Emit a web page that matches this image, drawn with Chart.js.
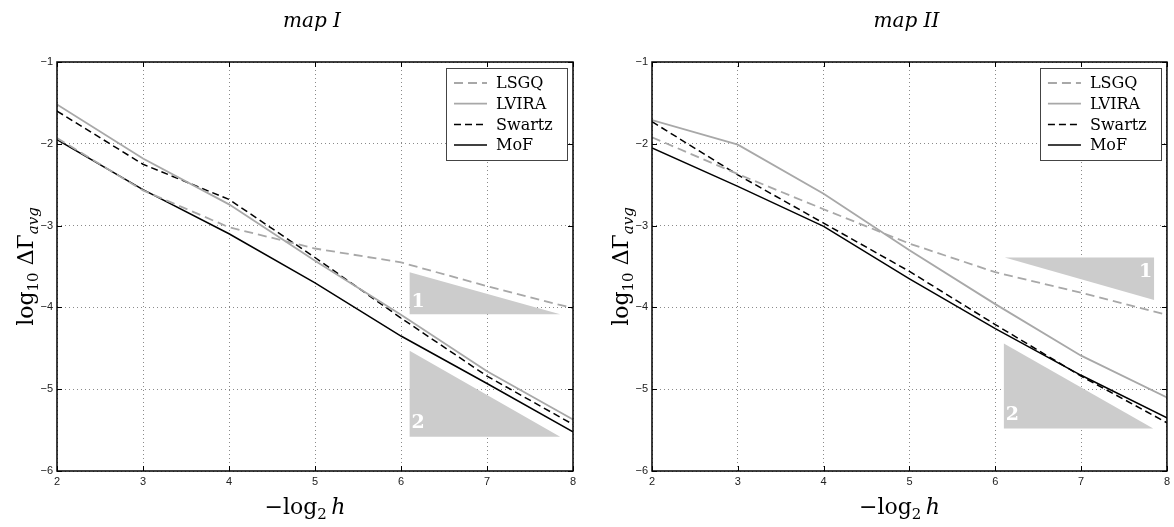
<!DOCTYPE html>
<html><head><meta charset="utf-8">
<script src="https://cdn.jsdelivr.net/npm/chart.js@4.4.1/dist/chart.umd.min.js"></script>
<style>
html,body{margin:0;padding:0;background:#fff;}
#wrap{position:relative;width:1174px;height:527px;overflow:hidden;}
.c{position:absolute;top:0;width:587px;height:527px;}
</style></head><body>
<div id="wrap">
<div class="c" style="left:0"><canvas id="c1"></canvas></div>
<div class="c" style="left:587px"><canvas id="c2"></canvas></div>
</div>
<script>
// ---- data ----
const xValues = [2, 3, 4, 5, 6, 7, 8];
const seriesNames = ['LSGQ', 'LVIRA', 'Swartz', 'MoF'];
const panelTitles = ['map I', 'map II'];
const xTickRange = [2, 8];
const yTickRange = [-6, -1];

const map1LSGQ   = [-1.93, -2.57, -3.02, -3.28, -3.45, -3.74, -4.01];
const map1LVIRA  = [-1.52, -2.18, -2.74, -3.43, -4.09, -4.78, -5.37];
const map1Swartz = [-1.60, -2.25, -2.68, -3.39, -4.13, -4.84, -5.43];
const map1MoF    = [-1.95, -2.56, -3.10, -3.70, -4.35, -4.93, -5.52];

const map2LSGQ   = [-1.92, -2.37, -2.80, -3.22, -3.57, -3.82, -4.09];
const map2LVIRA  = [-1.71, -2.01, -2.61, -3.30, -3.96, -4.59, -5.10];
const map2Swartz = [-1.73, -2.38, -2.97, -3.56, -4.21, -4.84, -5.41];
const map2MoF    = [-2.05, -2.52, -3.01, -3.65, -4.26, -4.83, -5.35];

// slope triangles (vertices in data units) and their labels
const map1Tri1 = [[6.1, -3.57], [6.1, -4.085], [7.85, -4.085]];
const map1Tri2 = [[6.1, -4.53], [6.1, -5.58], [7.85, -5.58]];
const map1TriLabels = [['1', 6.2, -3.93], ['2', 6.2, -5.41]];
const map2Tri1 = [[6.11, -3.39], [7.85, -3.39], [7.85, -3.91]];
const map2Tri2 = [[6.1, -4.44], [6.1, -5.48], [7.84, -5.48]];
const map2TriLabels = [['1', 7.75, -3.57], ['2', 6.2, -5.32]];

// ---- styles ----
const GREY = '#a8a8a8';
const styles = [
  {color: GREY, dash: [9, 5], width: 1.8},
  {color: GREY, dash: [], width: 1.8},
  {color: '#000', dash: [7, 4], width: 1.5},
  {color: '#000', dash: [], width: 1.5}
];
const SERIF = '"DejaVu Serif"';

function richText(ctx, segs, cx, baseY) {
  let w = 0;
  segs.forEach(s => { ctx.font = s.font; w += ctx.measureText(s.t).width; });
  let x = cx - w / 2;
  ctx.textAlign = 'left';
  ctx.textBaseline = 'alphabetic';
  segs.forEach(s => { ctx.font = s.font; ctx.fillText(s.t, x, baseY + (s.dy || 0)); x += ctx.measureText(s.t).width; });
}

function makeDecor(cfg) {
  return {
    id: 'decor',
    beforeDatasetsDraw(chart) {
      const {ctx, scales: {x, y}} = chart;
      ctx.save();
      cfg.tris.forEach(t => {
        ctx.fillStyle = '#cccccc';
        ctx.beginPath();
        t.forEach((p, i) => {
          const px = x.getPixelForValue(p[0]), py = y.getPixelForValue(p[1]);
          if (i) ctx.lineTo(px, py); else ctx.moveTo(px, py);
        });
        ctx.closePath();
        ctx.fill();
      });
      ctx.fillStyle = '#fff';
      ctx.font = 'bold 19px ' + SERIF;
      ctx.textAlign = 'center';
      ctx.textBaseline = 'middle';
      cfg.triLabels.forEach(l => ctx.fillText(l[0], x.getPixelForValue(l[1]), y.getPixelForValue(l[2])));
      ctx.restore();
    },
    afterDraw(chart) {
      const {ctx, chartArea: a, scales: {x, y}} = chart;
      ctx.save();
      // frame
      ctx.strokeStyle = '#000';
      ctx.lineWidth = 1.5;
      ctx.strokeRect(a.left, a.top, a.right - a.left, a.bottom - a.top);
      // inward ticks
      ctx.lineWidth = 1;
      ctx.beginPath();
      x.ticks.forEach(t => {
        const px = Math.round(x.getPixelForValue(t.value)) + 0.5;
        ctx.moveTo(px, a.bottom); ctx.lineTo(px, a.bottom - 5);
        ctx.moveTo(px, a.top); ctx.lineTo(px, a.top + 5);
      });
      y.ticks.forEach(t => {
        const py = Math.round(y.getPixelForValue(t.value)) + 0.5;
        ctx.moveTo(a.left, py); ctx.lineTo(a.left + 5, py);
        ctx.moveTo(a.right, py); ctx.lineTo(a.right - 5, py);
      });
      ctx.stroke();
      // legend
      const bw = 121, bh = 92;
      const bx = a.right - 6 - bw, by = a.top + 6;
      ctx.fillStyle = '#fff';
      ctx.fillRect(bx, by, bw, bh);
      ctx.strokeStyle = '#444';
      ctx.lineWidth = 1;
      ctx.strokeRect(Math.round(bx) + 0.5, Math.round(by) + 0.5, bw, bh);
      chart.data.datasets.forEach((ds, i) => {
        const ry = by + 15 + i * 20.7;
        ctx.beginPath();
        ctx.strokeStyle = ds.borderColor;
        ctx.lineWidth = ds.borderWidth;
        ctx.setLineDash(ds.borderDash || []);
        ctx.moveTo(bx + 8, ry); ctx.lineTo(bx + 41, ry);
        ctx.stroke();
        ctx.setLineDash([]);
        ctx.fillStyle = '#000';
        ctx.font = '16px ' + SERIF;
        ctx.textAlign = 'left';
        ctx.textBaseline = 'middle';
        ctx.fillText(ds.label, bx + 50, ry + 1);
      });
      // title
      ctx.fillStyle = '#000';
      const cx = (a.left + a.right) / 2;
      ctx.font = 'italic 20px ' + SERIF;
      ctx.textAlign = 'center';
      ctx.textBaseline = 'alphabetic';
      ctx.fillText(cfg.title, cx - 3, 27);
      // x axis title: −log2 h
      richText(ctx, [
        {t: '\u2212log', font: '22px ' + SERIF},
        {t: '2', font: '15px ' + SERIF, dy: 5},
        {t: '\u2009', font: '22px ' + SERIF},
        {t: 'h', font: 'italic 22px ' + SERIF}
      ], cx - 10, 514);
      // y axis title: log10 ΔΓavg
      ctx.save();
      ctx.translate(a.left - 24, (a.top + a.bottom) / 2);
      ctx.rotate(-Math.PI / 2);
      richText(ctx, [
        {t: 'log', font: '22px ' + SERIF},
        {t: '10', font: '15px ' + SERIF, dy: 5},
        {t: ' \u0394\u0393', font: '22px ' + SERIF},
        {t: 'avg', font: 'italic 15px ' + SERIF, dy: 5}
      ], 0, 0);
      ctx.restore();
      ctx.restore();
    }
  };
}

function makeChart(id, title, series, tris, triLabels, leftW, rightPad) {
  const datasets = series.map((vals, i) => ({
    label: seriesNames[i],
    data: xValues.map((xv, j) => ({x: xv, y: vals[j]})),
    borderColor: styles[i].color,
    borderDash: styles[i].dash,
    borderWidth: styles[i].width,
    pointRadius: 0,
    fill: false,
    tension: 0
  }));
  return new Chart(document.getElementById(id), {
    type: 'line',
    data: {datasets},
    options: {
      responsive: true,
      maintainAspectRatio: false,
      animation: false,
      devicePixelRatio: 1,
      layout: {padding: {left: 0, right: rightPad, top: 62, bottom: 0}},
      plugins: {legend: {display: false}, tooltip: {enabled: false}},
      scales: {
        x: {
          type: 'linear', min: xTickRange[0], max: xTickRange[1],
          ticks: {stepSize: 1, padding: 4, color: '#222', font: {family: '"Liberation Sans"', size: 11}},
          grid: {color: '#8a8a8a', lineWidth: 1, drawTicks: false},
          border: {display: false, dash: [1, 3]},
          afterFit: s => { s.height = 56; }
        },
        y: {
          type: 'linear', min: yTickRange[0], max: yTickRange[1],
          ticks: {stepSize: 1, padding: 4, color: '#222', font: {family: '"Liberation Sans"', size: 11},
                  callback: v => (v < 0 ? '\u2212' : '') + Math.abs(v)},
          grid: {color: '#8a8a8a', lineWidth: 1, drawTicks: false},
          border: {display: false, dash: [1, 3]},
          afterFit: s => { s.width = leftW; }
        }
      }
    },
    plugins: [makeDecor({title, tris, triLabels})]
  });
}

makeChart('c1', panelTitles[0], [map1LSGQ, map1LVIRA, map1Swartz, map1MoF], [map1Tri1, map1Tri2], map1TriLabels, 57, 14);
makeChart('c2', panelTitles[1], [map2LSGQ, map2LVIRA, map2Swartz, map2MoF], [map2Tri1, map2Tri2], map2TriLabels, 65, 4);
</script>
</body></html>
